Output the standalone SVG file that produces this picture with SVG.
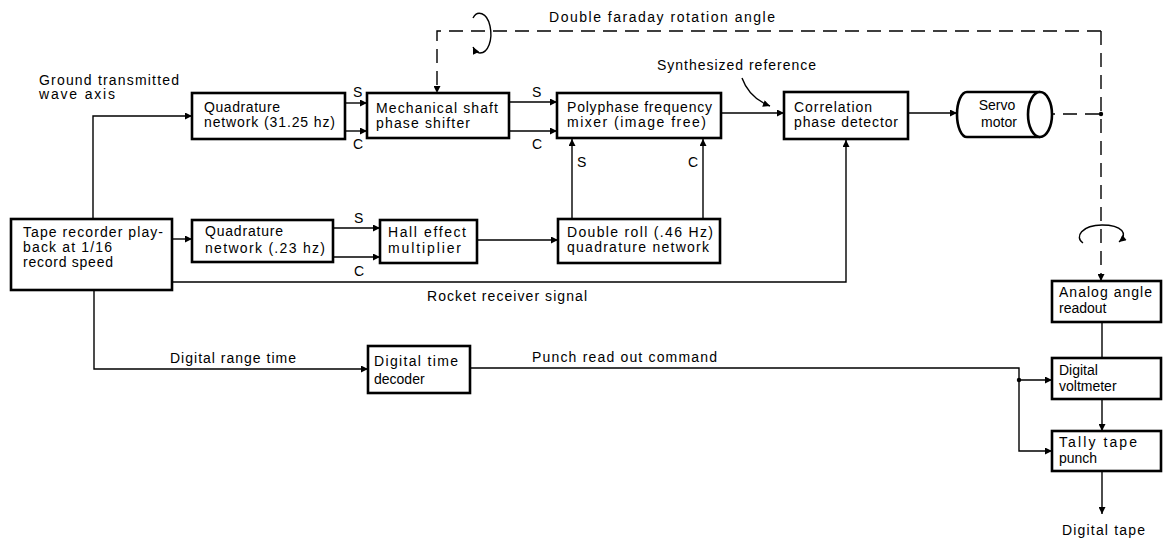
<svg xmlns="http://www.w3.org/2000/svg" width="1167" height="539" viewBox="0 0 1167 539">
<defs>
<style>
.box{fill:#fff;stroke:#000;stroke-width:2.6}
.ln{fill:none;stroke:#000;stroke-width:1.4}
.dash{fill:none;stroke:#000;stroke-width:1.4;stroke-dasharray:14 8}
text{font-family:"Liberation Sans",Arial,sans-serif;font-size:14px;fill:#000}
.c{text-anchor:middle}
</style>
<marker id="ah" viewBox="0 0 10 10" refX="10" refY="5" markerWidth="9" markerHeight="7" markerUnits="userSpaceOnUse" orient="auto">
<path d="M0 0 L10 5 L0 10 Z" fill="#000"/>
</marker>
</defs>
<rect width="1167" height="539" fill="#fff"/>

<g id="connectors">
<path class="ln" d="M93 219 V116 H192" marker-end="url(#ah)"/>
<path class="ln" d="M345 103 H367" marker-end="url(#ah)"/>
<path class="ln" d="M345 131 H367" marker-end="url(#ah)"/>
<path class="ln" d="M509 102 H557" marker-end="url(#ah)"/>
<path class="ln" d="M509 131 H557" marker-end="url(#ah)"/>
<path class="ln" d="M721 113 H784" marker-end="url(#ah)"/>
<path class="ln" d="M908 113 H957" marker-end="url(#ah)"/>
<path class="ln" d="M172 239 H192" marker-end="url(#ah)"/>
<path class="ln" d="M333 228 H380" marker-end="url(#ah)"/>
<path class="ln" d="M333 257 H380" marker-end="url(#ah)"/>
<path class="ln" d="M477 240 H558" marker-end="url(#ah)"/>
<path class="ln" d="M572 219 V139" marker-end="url(#ah)"/>
<path class="ln" d="M703 219 V139" marker-end="url(#ah)"/>
<path class="ln" d="M172 282 H846 V140" marker-end="url(#ah)"/>
<path class="ln" d="M94 290 V369 H368" marker-end="url(#ah)"/>
<path class="ln" d="M470 368 H1019 V451 H1052" marker-end="url(#ah)"/>
<path class="ln" d="M1019 380 H1052" marker-end="url(#ah)"/>
<circle cx="1019" cy="380" r="2.2"/>
<path class="ln" d="M1102 322 V358"/>
<path class="ln" d="M1102 399 V431" marker-end="url(#ah)"/>
<path class="ln" d="M1102 471 V514" marker-end="url(#ah)"/>
<path class="ln" d="M742 78 C747 92 757 101 770 106" marker-end="url(#ah)"/>
<path class="dash" d="M1101 31 H437 V93" marker-end="url(#ah)"/>
<path class="dash" d="M1101 31 V281" marker-end="url(#ah)"/>
<path class="dash" d="M1041 114 H1101"/>
<circle cx="1041" cy="114" r="2.2"/>
<circle cx="1101" cy="114" r="2.2"/>
<path class="ln" d="M473 18 C477 10 487 12 490 26 C493 40 488 53 480 53 C477 53 475 51 473 47" marker-end="url(#ah)"/>
<path class="ln" d="M1083 243 C1074 237 1082 225 1102 225 C1122 225 1129 234 1119 242" marker-end="url(#ah)"/>
<text x="549" y="22" textLength="226">Double faraday rotation angle</text>
<text x="657" y="70" textLength="159">Synthesized reference</text>
<text x="39" y="85" textLength="140">Ground transmitted</text>
<text x="39" y="99" textLength="76">wave axis</text>
<text x="353" y="97">S</text>
<text x="353" y="149">C</text>
<text x="532" y="97">S</text>
<text x="532" y="149">C</text>
<text x="577" y="167">S</text>
<text x="688" y="167">C</text>
<text x="354" y="223">S</text>
<text x="354" y="276">C</text>
<text x="427" y="301" textLength="160">Rocket receiver signal</text>
<text x="170" y="363" textLength="126">Digital range time</text>
<text x="532" y="362" textLength="185">Punch read out command</text>
<text x="1062" y="535" textLength="83">Digital tape</text>
</g>

<g id="quad1">
<rect class="box" x="192" y="93" width="153" height="46"/>
<text x="204" y="112" textLength="76">Quadrature</text>
<text x="204" y="127" textLength="131">network (31.25 hz)</text>
</g>
<g id="mech">
<rect class="box" x="367" y="93" width="142" height="45"/>
<text x="376" y="113" textLength="122">Mechanical shaft</text>
<text x="376" y="128" textLength="94">phase shifter</text>
</g>
<g id="poly">
<rect class="box" x="557" y="93" width="164" height="45"/>
<text x="567" y="112" textLength="145">Polyphase frequency</text>
<text x="567" y="127" textLength="139">mixer (image free)</text>
</g>
<g id="corr">
<rect class="box" x="784" y="92" width="124" height="47"/>
<text x="794" y="112" textLength="78">Correlation</text>
<text x="794" y="127" textLength="104">phase detector</text>
</g>
<g id="servo">
<path class="box" d="M1040 92 H967 A10 22.5 0 0 0 967 137 H1040"/>
<ellipse class="box" cx="1040" cy="114.5" rx="12" ry="22.5"/>
<text x="997" y="110" class="c">Servo</text>
<text x="999" y="127" class="c">motor</text>
</g>
<g id="tape">
<rect class="box" x="11" y="219" width="161" height="71"/>
<text x="23" y="237" textLength="140">Tape recorder play-</text>
<text x="23" y="252" textLength="89">back at 1/16</text>
<text x="23" y="267" textLength="90">record speed</text>
</g>
<g id="quad2">
<rect class="box" x="192" y="220" width="141" height="42"/>
<text x="205" y="236" textLength="78">Quadrature</text>
<text x="205" y="253" textLength="120">network (.23 hz)</text>
</g>
<g id="hall">
<rect class="box" x="380" y="220" width="97" height="43"/>
<text x="388" y="237" textLength="78">Hall effect</text>
<text x="388" y="253" textLength="73">multiplier</text>
</g>
<g id="droll">
<rect class="box" x="558" y="219" width="162" height="44"/>
<text x="567" y="237" textLength="146">Double roll (.46 Hz)</text>
<text x="567" y="252" textLength="142">quadrature network</text>
</g>
<g id="decoder">
<rect class="box" x="368" y="346" width="102" height="47"/>
<text x="374" y="366" textLength="84">Digital time</text>
<text x="374" y="384">decoder</text>
</g>
<g id="analog">
<rect class="box" x="1052" y="281" width="109" height="41"/>
<text x="1059" y="297" textLength="93">Analog angle</text>
<text x="1059" y="313">readout</text>
</g>
<g id="dvm">
<rect class="box" x="1052" y="358" width="109" height="41"/>
<text x="1059" y="375">Digital</text>
<text x="1059" y="391">voltmeter</text>
</g>
<g id="tally">
<rect class="box" x="1052" y="431" width="109" height="40"/>
<text x="1059" y="447" textLength="78">Tally tape</text>
<text x="1059" y="463">punch</text>
</g>
</svg>
